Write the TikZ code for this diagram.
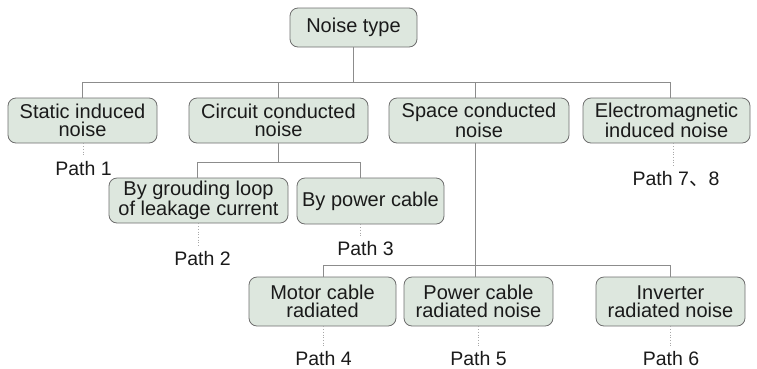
\documentclass[tikz,border=0pt]{standalone}
\usepackage{fontspec}
\setmainfont{Liberation Sans}
\newfontfamily\cjk{Noto Sans CJK SC}
\definecolor{boxfill}{HTML}{DDE7DE}
\definecolor{boxdraw}{HTML}{6E6E6E}
\definecolor{linecol}{HTML}{8C8C8C}
\definecolor{dotcol}{HTML}{A8A8A8}
\definecolor{txt}{HTML}{1A1A1A}
\begin{document}
\begin{tikzpicture}[x=1pt,y=-1pt,
  nbox/.style={draw=boxdraw, fill=boxfill, rounded corners=8pt, line width=0.8pt,
    align=center, inner sep=0pt, text=txt, font=\fontsize{20}{18.5}\selectfont},
  plabel/.style={inner sep=0pt, text=txt, text height=14pt, text depth=0pt,
    font=\fontsize{19.5}{20}\selectfont},
  conn/.style={draw=linecol, line width=0.8pt},
  dotline/.style={draw=dotcol, line width=0.7pt, dotted, shorten >=4pt}]
\useasboundingbox (0,0) rectangle (757,368);
% boxes
\node[nbox, minimum width=127pt, minimum height=39pt] (type) at (353.5,27.5) {Noise type};
\node[nbox, minimum width=149pt, minimum height=45pt] (static) at (82.5,120.5) {Static induced\\noise};
\node[nbox, minimum width=179pt, minimum height=45pt] (circuit) at (278.5,120.5) {Circuit conducted\\noise};
\node[nbox, minimum width=180pt, minimum height=45pt] (space) at (479,120.5) {Space conducted\\noise};
\node[nbox, minimum width=167pt, minimum height=45pt] (em) at (666.5,120.5) {Electromagnetic\\induced noise};
\node[nbox, minimum width=179pt, minimum height=45pt] (ground) at (198.5,200.5) {By grouding loop\\of leakage current};
\node[nbox, minimum width=147pt, minimum height=46pt] (power) at (370.5,201) {By power cable};
\node[nbox, minimum width=147pt, minimum height=49pt] (motor) at (322.5,301.5) {Motor cable\\radiated};
\node[nbox, minimum width=149pt, minimum height=49pt] (pcr) at (478.5,301.5) {Power cable\\radiated noise};
\node[nbox, minimum width=149pt, minimum height=49pt] (inv) at (670.5,301.5) {Inverter\\radiated noise};
% path labels
\node[plabel] (p1) at (83.5,168) {Path 1};
\node[plabel] (p2) at (202.5,258.5) {Path 2};
\node[plabel] (p3) at (365.5,248) {Path 3};
\node[plabel] (p78) at (676,178.5) {Path 7{\cjk 、}8};
\node[plabel] (p4) at (323.5,358) {Path 4};
\node[plabel] (p5) at (478.5,358) {Path 5};
\node[plabel] (p6) at (671,358) {Path 6};
% tree connectors
\draw[conn] (type.south) -- ++(0,35) -| (static.north);
\draw[conn] (type.south) ++(0,35) -| (circuit.north);
\draw[conn] (type.south) ++(0,35) -| ([xshift=-4pt]space.north);
\draw[conn] (type.south) ++(0,35) -| ([xshift=3.5pt]em.north);
\draw[conn] (circuit.south) -- ++(0,19) -| ([xshift=-1.5pt]ground.north);
\draw[conn] (circuit.south) ++(0,19) -| ([xshift=-10.5pt]power.north);
\draw[conn] ([xshift=-4pt]space.south) -- ([xshift=-3.5pt]pcr.north);
\draw[conn] ([xshift=-4pt]space.south) ++(0,122) -| ([xshift=0.5pt]motor.north);
\draw[conn] ([xshift=-4pt]space.south) ++(0,122) -| ([xshift=-0.5pt]inv.north);
% dotted connectors
\draw[dotline] ([xshift=0.5pt]static.south) -- ([xshift=0.5pt]static.south |- p1.north);
\draw[dotline] ([xshift=-0.5pt]ground.south) -- ([xshift=-0.5pt]ground.south |- p2.north);
\draw[dotline] ([xshift=-10.5pt]power.south) -- ([xshift=-10.5pt]power.south |- p3.north);
\draw[dotline] ([xshift=6.5pt]em.south) -- ([xshift=6.5pt]em.south |- p78.north);
\draw[dotline] ([xshift=0.5pt]motor.south) -- ([xshift=0.5pt]motor.south |- p4.north);
\draw[dotline] ([xshift=-0.5pt]pcr.south) -- ([xshift=-0.5pt]pcr.south |- p5.north);
\draw[dotline] ([xshift=-0.5pt]inv.south) -- ([xshift=-0.5pt]inv.south |- p6.north);
\end{tikzpicture}
\end{document}
